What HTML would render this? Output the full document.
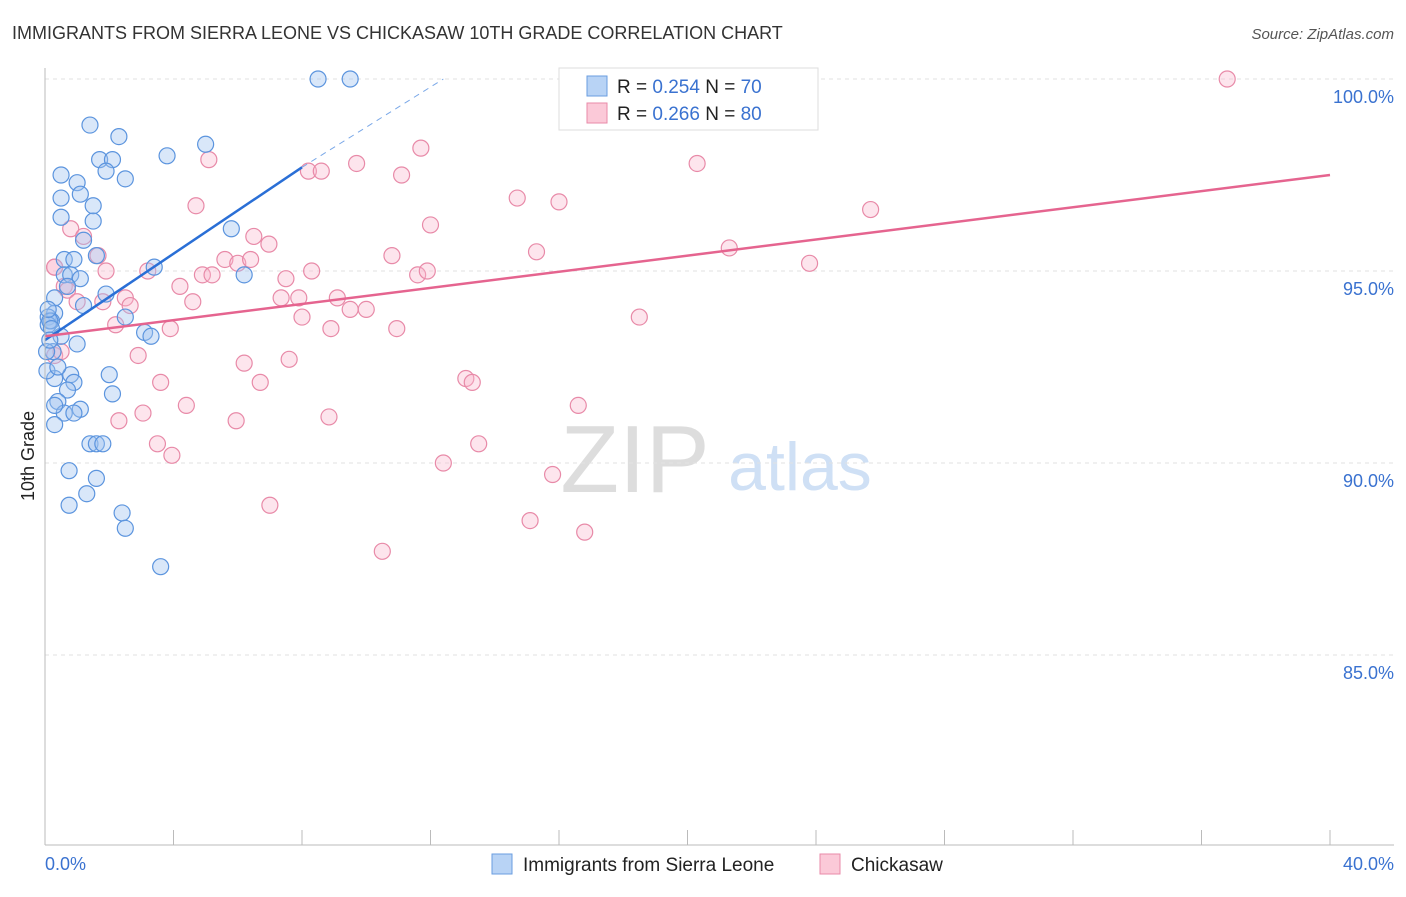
<!DOCTYPE html>
<html><head><meta charset="utf-8"><style>
body{margin:0;background:#fff;font-family:"Liberation Sans",sans-serif;}
svg text{font-family:"Liberation Sans",sans-serif;}
</style></head><body>
<svg id="c" width="1406" height="892">
<text x="12" y="39" font-size="18" fill="#333">IMMIGRANTS FROM SIERRA LEONE VS CHICKASAW 10TH GRADE CORRELATION CHART</text>
<text x="1394" y="39" font-size="15" fill="#555" font-style="italic" text-anchor="end">Source: ZipAtlas.com</text>
<text x="34" y="456" font-size="18" fill="#222" transform="rotate(-90 34 456)" text-anchor="middle">10th Grade</text>
<text x="635" y="492" font-size="96" fill="#ddd" font-family="Liberation Serif" text-anchor="middle">ZIP</text>
<text x="800" y="490" font-size="68" fill="#cfe0f5" text-anchor="middle">atlas</text>
<g id="grid"></g><g id="pts"></g><g id="lines"></g>
<line x1="45" y1="68" x2="45" y2="845" stroke="#bbb"/>
<line x1="45" y1="845" x2="1394" y2="845" stroke="#bbb"/>
<text x="45" y="870" font-size="18" fill="#3a72d0">0.0%</text>
<text x="1394" y="870" font-size="18" fill="#3a72d0" text-anchor="end">40.0%</text>
<g>
<rect x="559" y="68" width="259" height="62" fill="#fff" stroke="#ddd"/>
<rect x="587" y="76" width="20" height="20" fill="#b8d3f5" stroke="#6a9ee0"/>
<rect x="587" y="103" width="20" height="20" fill="#fbc9d8" stroke="#e88aa8"/>
<text x="617" y="93" font-size="19" fill="#222">R = <tspan fill="#3a72d0">0.254</tspan>   N = <tspan fill="#3a72d0">70</tspan></text>
<text x="617" y="120" font-size="19" fill="#222">R = <tspan fill="#3a72d0">0.266</tspan>   N = <tspan fill="#3a72d0">80</tspan></text>
</g>
<g>
<rect x="492" y="854" width="20" height="20" fill="#b8d3f5" stroke="#6a9ee0"/>
<text x="523" y="871" font-size="19" fill="#222">Immigrants from Sierra Leone</text>
<rect x="820" y="854" width="20" height="20" fill="#fbc9d8" stroke="#e88aa8"/>
<text x="851" y="871" font-size="19" fill="#222">Chickasaw</text>
</g>
</svg>
<script>
const yTicks=[100,95,90,85];
const xTickCount=10;
const blueX=[8.5,9.5,1.4,2.3,5.0,3.8,1.7,2.1,1.9,2.5,0.5,1.0,0.5,1.1,1.5,0.5,1.5,5.8,1.2,1.6,0.6,0.9,3.4,0.6,0.8,1.1,0.7,1.9,0.3,1.2,0.3,0.1,0.2,0.1,2.5,3.1,3.3,0.5,1.0,6.2,0.25,0.3,0.8,2.0,0.9,0.7,2.1,0.4,1.1,0.6,0.9,0.3,1.4,1.6,1.8,0.75,1.6,1.3,0.75,2.4,2.5,3.6,0.05,0.06,0.15,0.1,0.2,0.4,0.3,0.15];
const blueY=[100,100,98.8,98.5,98.3,98.0,97.9,97.9,97.6,97.4,97.5,97.3,96.9,97.0,96.7,96.4,96.3,96.1,95.8,95.4,95.3,95.3,95.1,94.9,94.9,94.8,94.6,94.4,94.3,94.1,93.9,93.8,93.7,93.6,93.8,93.4,93.3,93.3,93.1,94.9,92.9,92.2,92.3,92.3,92.1,91.9,91.8,91.6,91.4,91.3,91.3,91.0,90.5,90.5,90.5,89.8,89.6,89.2,88.9,88.7,88.3,87.3,92.9,92.4,93.7,94.0,93.5,92.5,91.5,93.2];
const pinkX=[18.3,21.9,36.8,11.7,5.1,9.7,20.3,8.2,8.6,11.1,14.7,16.0,25.7,4.7,12.0,0.8,1.2,6.5,6.97,21.3,10.8,15.3,1.65,5.6,0.3,1.9,3.2,6.0,6.4,8.3,23.8,4.9,5.2,7.5,11.6,11.9,0.6,4.2,0.7,1.0,1.8,2.5,2.65,4.6,7.35,7.9,9.1,9.5,10.0,8.0,2.2,3.9,8.9,10.95,18.5,2.9,0.3,6.2,7.6,3.6,6.7,13.1,13.3,4.4,16.6,3.05,2.3,5.95,8.84,3.5,3.95,13.5,12.4,15.8,7.0,15.1,16.8,10.5,0.3,0.5];
const pinkY=[100,100,100,98.2,97.9,97.8,97.8,97.6,97.6,97.5,96.9,96.8,96.6,96.7,96.2,96.1,95.9,95.9,95.7,95.6,95.4,95.5,95.4,95.3,95.1,95.0,95.0,95.2,95.3,95.0,95.2,94.9,94.9,94.8,94.9,95.0,94.6,94.6,94.5,94.2,94.2,94.3,94.1,94.2,94.3,94.3,94.3,94.0,94.0,93.8,93.6,93.5,93.5,93.5,93.8,92.8,92.8,92.6,92.7,92.1,92.1,92.2,92.1,91.5,91.5,91.3,91.1,91.1,91.2,90.5,90.2,90.5,90.0,89.7,88.9,88.5,88.2,87.7,95.1,92.9];
const blueFit=[0,93.2,8.0,97.7];
const blueDash=[8.0,97.7,12.4,100];
const pinkFit=[0,93.3,40,97.5];
const X=v=>45+v/40*1285, Y=v=>79+(100-v)*38.4;
const NS='http://www.w3.org/2000/svg';
function mk(t,a,p){const e=document.createElementNS(NS,t);for(const k in a)e.setAttribute(k,a[k]);p.appendChild(e);return e;}
const g=document.getElementById('grid'),pts=document.getElementById('pts'),ln=document.getElementById('lines');
yTicks.forEach(v=>{
 const l=mk('line',{x1:45,x2:1394,y1:Y(v),y2:Y(v),stroke:'#e2e2e2','stroke-dasharray':'4,4'},g);
 
 
 const t=mk('text',{x:1394,y:Y(v)+24,'font-size':18,fill:'#3a72d0','text-anchor':'end'},g);
 t.textContent=v.toFixed(1)+'%';
 
 
});
for(let i=1;i<=xTickCount;i++){
 const t=mk('line',{x1:X(i*4),x2:X(i*4),y1:830,y2:845,stroke:'#bbb'},g);
 
 
}
pinkX.forEach((x,i)=>{
 const c=mk('circle',{cx:X(x),cy:Y(pinkY[i]),r:8,fill:'rgba(248,180,202,0.35)',stroke:'#e88aa8','stroke-width':1.2},pts);
 
 
});
blueX.forEach((x,i)=>{
 const c=mk('circle',{cx:X(x),cy:Y(blueY[i]),r:8,fill:'rgba(160,196,240,0.4)',stroke:'#5b94de','stroke-width':1.2},pts);
 
 
});
let l=mk('line',{x1:X(blueFit[0]),y1:Y(blueFit[1]),x2:X(blueFit[2]),y2:Y(blueFit[3]),stroke:'#2a6fd6','stroke-width':2.5},ln);


l=mk('line',{x1:X(blueDash[0]),y1:Y(blueDash[1]),x2:X(blueDash[2]),y2:Y(blueDash[3]),stroke:'#7aa8e8','stroke-width':1,'stroke-dasharray':'6,5'},ln);


l=mk('line',{x1:X(pinkFit[0]),y1:Y(pinkFit[1]),x2:X(pinkFit[2]),y2:Y(pinkFit[3]),stroke:'#e5648f','stroke-width':2.5},ln);


</script>
</body></html>
